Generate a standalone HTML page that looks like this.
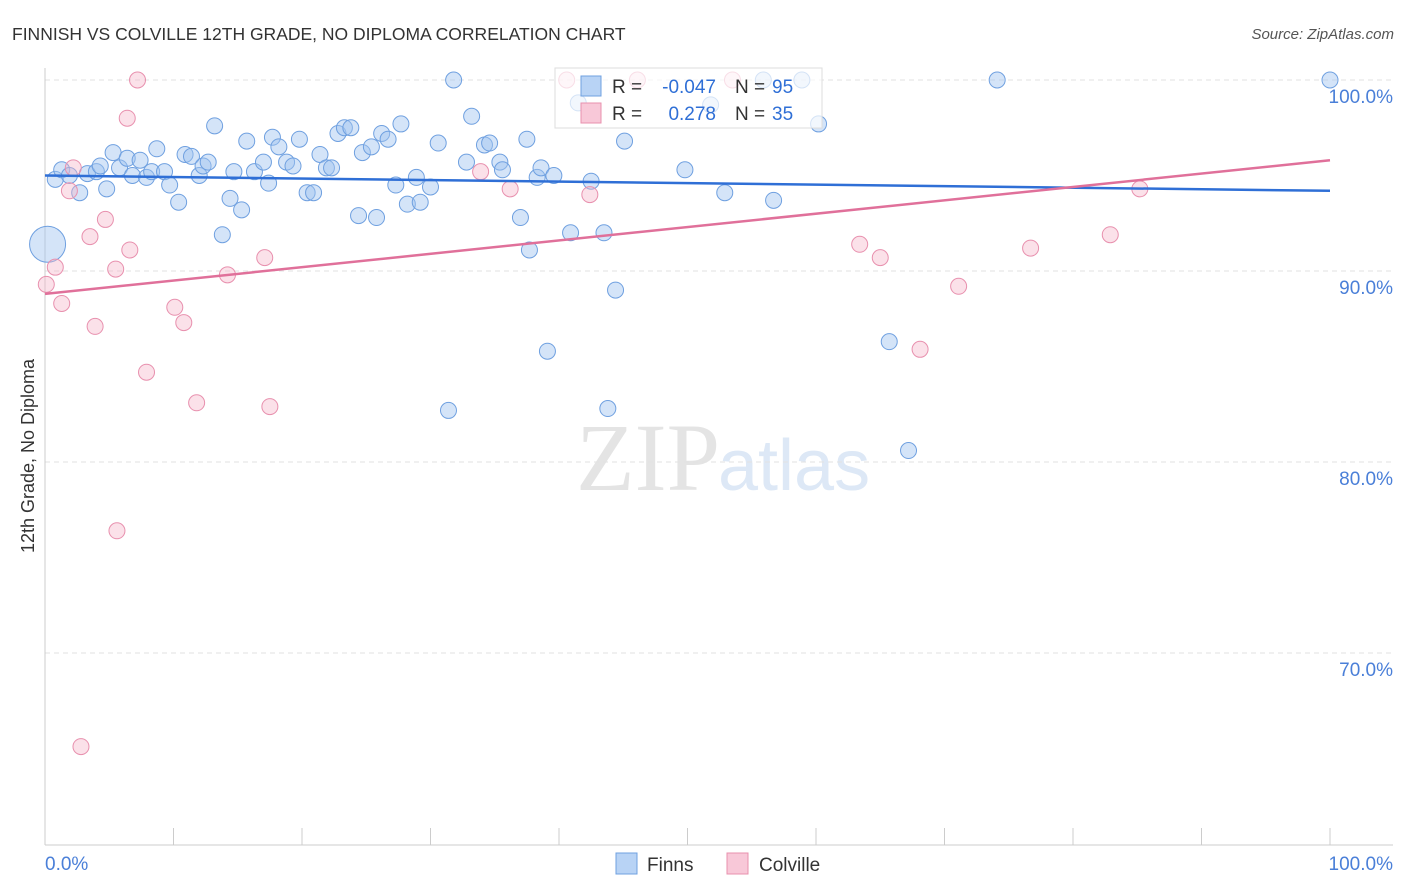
<!DOCTYPE html>
<html><head><meta charset="utf-8"><style>
body{margin:0;background:#fff;font-family:"Liberation Sans",sans-serif;}
svg{display:block}
</style></head><body>
<svg id="c" width="1406" height="892">
<text x="12" y="40" font-size="17.5" fill="#333">FINNISH VS COLVILLE 12TH GRADE, NO DIPLOMA CORRELATION CHART</text>
<text x="1394" y="39" font-size="15" fill="#555" font-style="italic" text-anchor="end">Source: ZipAtlas.com</text>
<text x="720" y="490" font-size="96" fill="#e4e4e4" text-anchor="end" font-family="Liberation Serif">ZIP</text>
<text x="718" y="490" font-size="72" fill="#dde8f6">atlas</text>
<text transform="translate(34,456) rotate(-90)" font-size="18" fill="#333" text-anchor="middle">12th Grade, No Diploma</text>
<g id="grid"></g>
<g id="pts"></g><g id="lines"></g>
<g>
<rect x="555" y="68" width="267" height="60" fill="rgba(255,255,255,0.7)" stroke="#ddd"/>
<rect x="581" y="76" width="20" height="20" fill="#b8d3f5" stroke="#6fa0e0"/>
<rect x="581" y="103" width="20" height="20" fill="#f8c8d8" stroke="#e890ae"/>
<text x="612" y="93" font-size="19" fill="#333">R =</text>
<text x="716" y="93" font-size="19" fill="#2f6fd6" text-anchor="end">-0.047</text>
<text x="735" y="93" font-size="19" fill="#333">N =</text>
<text x="772" y="93" font-size="19" fill="#2f6fd6">95</text>
<text x="612" y="120" font-size="19" fill="#333">R =</text>
<text x="716" y="120" font-size="19" fill="#2f6fd6" text-anchor="end">0.278</text>
<text x="735" y="120" font-size="19" fill="#333">N =</text>
<text x="772" y="120" font-size="19" fill="#2f6fd6">35</text>
</g>
<g>
<rect x="616" y="853" width="21" height="21" fill="#b8d3f5" stroke="#6fa0e0"/>
<text x="647" y="871" font-size="19" fill="#333">Finns</text>
<rect x="727" y="853" width="21" height="21" fill="#f8c8d8" stroke="#e890ae"/>
<text x="759" y="871" font-size="19" fill="#333">Colville</text>
</g>
</svg>
<script>
const yTicks=[100,90,80,70];
const xTickLabels=["0.0%","100.0%"];
const finnsX=[0.2,0.8,1.3,1.9,2.7,3.3,4.0,4.3,4.8,5.3,5.8,6.4,6.8,7.4,7.9,8.3,8.7,9.3,9.7,10.4,10.9,11.4,12.0,12.3,12.7,13.2,13.8,14.4,14.7,15.3,15.7,16.3,17.0,17.4,17.7,18.2,18.8,19.3,19.8,20.4,20.9,21.4,21.9,22.3,22.8,23.3,23.8,24.4,24.7,25.4,25.8,26.2,26.7,27.3,27.7,28.2,28.9,29.2,30.0,30.6,31.4,31.8,32.8,33.2,34.2,34.6,35.4,35.6,37.0,37.5,37.7,38.3,38.6,39.1,39.6,40.9,41.5,42.5,43.5,44.4,45.1,43.8,49.8,51.8,52.9,55.9,56.7,58.9,60.2,65.7,67.2,74.1,100];
const finnsY=[91.4,94.8,95.3,95.0,94.1,95.1,95.2,95.5,94.3,96.2,95.4,95.9,95.0,95.8,94.9,95.2,96.4,95.2,94.5,93.6,96.1,96.0,95.0,95.5,95.7,97.6,91.9,93.8,95.2,93.2,96.8,95.2,95.7,94.6,97.0,96.5,95.7,95.5,96.9,94.1,94.1,96.1,95.4,95.4,97.2,97.5,97.5,92.9,96.2,96.5,92.8,97.2,96.9,94.5,97.7,93.5,94.9,93.6,94.4,96.7,82.7,100,95.7,98.1,96.6,96.7,95.7,95.3,92.8,96.9,91.1,94.9,95.4,85.8,95.0,92.0,98.8,94.7,92.0,89.0,96.8,82.8,95.3,98.7,94.1,100,93.7,100,97.7,86.3,80.6,100,100];
const colX=[0.1,0.8,1.3,1.9,2.2,2.8,3.5,3.9,4.7,5.5,5.6,6.4,6.6,7.2,7.9,10.1,10.8,11.8,14.2,17.1,17.5,33.9,36.2,40.6,42.4,46.1,53.5,63.4,65.0,68.1,71.1,76.7,82.9,85.2];
const colY=[89.3,90.2,88.3,94.2,95.4,65.1,91.8,87.1,92.7,90.1,76.4,98.0,91.1,100,84.7,88.1,87.3,83.1,89.8,90.7,82.9,95.2,94.3,100,94.0,100,100,91.4,90.7,85.9,89.2,91.2,91.9,94.3];
const finnsTrend=[95.0,94.2];
const colTrend=[88.8,95.8];
const NS="http://www.w3.org/2000/svg";
const sx=v=>45+v*12.85, sy=v=>80+(100-v)*19.1;
function mk(t,a,p){const e=document.createElementNS(NS,t);for(const k in a)e.setAttribute(k,a[k]);p.appendChild(e);return e;}
const grid=document.getElementById('grid');
yTicks.forEach(t=>{
 const l=mk('line',{x1:45,x2:1393,y1:sy(t),y2:sy(t),stroke:'#e2e2e2','stroke-dasharray':'5,4'},grid);
 
 
 const tx=mk('text',{x:1393,y:sy(t)+23,'font-size':19,fill:'#4a7fd8','text-anchor':'end'},grid);
 tx.textContent=t.toFixed(1)+'%';
 
 
});
mk('line',{x1:45,x2:45,y1:68,y2:845,stroke:'#ccc'},grid);
mk('line',{x1:45,x2:1393,y1:845,y2:845,stroke:'#ccc'},grid);
for(let i=0;i<=10;i++){const t=mk('line',{x1:sx(i*10),x2:sx(i*10),y1:828,y2:845,stroke:'#ccc'},grid);
 
 }
const xl0=mk('text',{x:45,y:870,'font-size':19,fill:'#4a7fd8'},grid);xl0.textContent=xTickLabels[0];


const xl1=mk('text',{x:1393,y:870,'font-size':19,fill:'#4a7fd8','text-anchor':'end'},grid);xl1.textContent=xTickLabels[1];


const pts=document.getElementById('pts');
finnsX.forEach((x,i)=>{const c=mk('circle',{cx:sx(x),cy:sy(finnsY[i]),r:i===0?18:8,fill:'rgba(160,196,240,0.45)',stroke:'#6fa0e0','stroke-width':1},pts);
 
 });
colX.forEach((x,i)=>{const c=mk('circle',{cx:sx(x),cy:sy(colY[i]),r:8,fill:'rgba(245,180,200,0.4)',stroke:'#e890ae','stroke-width':1},pts);
 
 });
const lines=document.getElementById('lines');
const fl=mk('line',{x1:sx(0),y1:sy(finnsTrend[0]),x2:sx(100),y2:sy(finnsTrend[1]),stroke:'#2f6fd6','stroke-width':2.5},lines);


const cl=mk('line',{x1:sx(0),y1:sy(colTrend[0]),x2:sx(100),y2:sy(colTrend[1]),stroke:'#e0709a','stroke-width':2.5},lines);


</script>
</body></html>
